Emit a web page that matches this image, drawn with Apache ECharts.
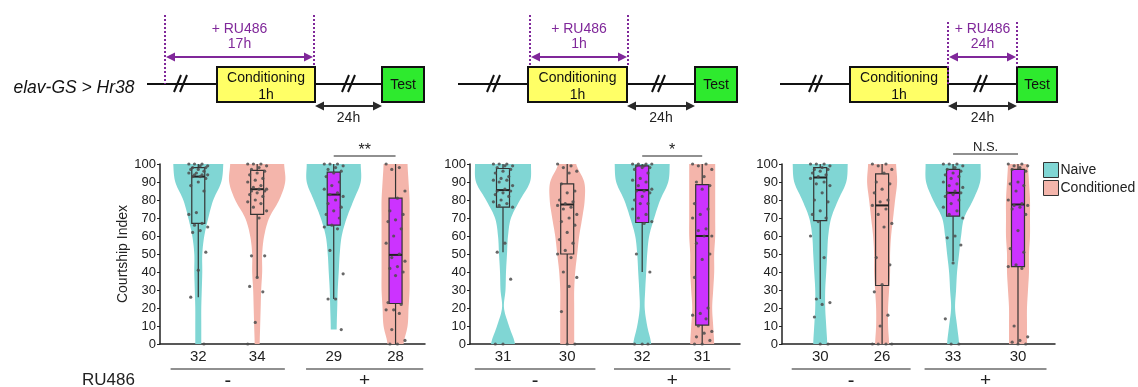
<!DOCTYPE html>
<html>
<head>
<meta charset="utf-8">
<script src="https://cdn.jsdelivr.net/npm/echarts@6/dist/echarts.min.js"></script>
<style>
  html, body { margin: 0; background: #fff; }
  #main { width: 1138px; height: 387px; }
</style>
</head>
<body>
<div id="main"></div>
<script>
const FONT = '"Liberation Sans", Arial, sans-serif';

// ---- data ----
const yTicks = [0, 10, 20, 30, 40, 50, 60, 70, 80, 90, 100];
const groupNames = ['Naive', 'Conditioned', 'Naive', 'Conditioned'];
const counts = [[32, 34, 29, 28], [31, 30, 32, 31], [30, 26, 33, 30]];
const ruGroups = ['-', '+'];
const sigLabels = ['**', '*', 'N.S.'];
const rxLabels = ['17h', '1h', '24h'];

// violin half widths (density) at y = 0,10,...,100
const vio1 = [
  [3, 3, 3, 3.5, 4, 4, 6, 10, 15, 23, 25],
  [2.5, 3, 3.5, 4, 5, 5, 7, 12, 22, 28, 27],
  [3, 3, 3.5, 4, 5, 6, 8, 13, 20, 27, 27],
  [8, 12, 13, 14, 14, 14, 14, 14, 14, 13, 12]
];
const vio2 = [
  [12, 6, 1, 2.5, 3, 4, 5, 8, 17, 27, 28],
  [7, 7, 7, 7, 8, 10, 12, 15, 17.5, 17, 9],
  [9, 5, 2.5, 3, 4, 5, 7, 12, 18, 26, 27.5],
  [12, 11, 10, 11, 12, 12, 13, 13, 13, 13, 13]
];
const vio3 = [
  [7, 6, 5, 5, 6, 7, 8, 11, 18, 26, 27.5],
  [7, 6, 6, 7, 8, 8, 9, 11, 13, 15, 14],
  [6, 4, 2, 3, 4, 6, 8, 11, 20, 27, 27.5],
  [9, 9, 9, 10, 11, 11, 12, 12, 12, 11, 10]
];
const vioMin = [[0, 0, 8, 0], [0, 0, 0, 0], [0, 0, 0, 0]];

// box stats: [low whisker, q1, median, q3, high whisker]
const box1 = [[26, 67, 93, 98, 100], [37, 72, 86, 96.5, 100], [25, 66, 83, 95.5, 100], [0, 22.5, 49.5, 81, 100]];
const box2 = [[51, 76, 85.5, 97.5, 100], [0, 50, 77.5, 89, 100], [40, 67.5, 85.5, 99, 100], [0, 10.5, 60, 88.5, 100]];
const box3 = [[25, 68.5, 92.5, 98, 100], [0, 32.5, 77, 94.5, 100], [46, 71, 84, 97, 100], [0, 43, 77.5, 97, 100]];

// individual flies
const pts1 = [
  [100,100,100,99,99,98,98,97,97,96,95,95,94,94,94,93,93,92,90,88,85,73,72,67,66,65,63,62,51,41,26,0],
  [100,100,100,99,98,97,96,95,94,92,91,90,88,87,86,86,85,85,84,83,82,80,79,78,76,74,70,49,49,37,32,29,12,0],
  [100,100,100,99,98,97,96,95,93,90,88,86,84,83,82,80,78,76,74,72,70,66,65,64,52,39,25,25,8],
  [100,98,97,85,81,74,72,69,68,64,60,56,50,48,46,43,42,40,38,23,22,19,19,17,8,2,0,0]
];
const pts2 = [
  [100,100,100,99,99,98,97,96,95,93,92,91,91,90,88,86,85,85,84,83,82,80,79,78,77,76,56,51,36,0,0],
  [100,99,98,96,95,89,85,84,80,79,78,77,76,75,72,70,68,66,62,58,56,52,50,48,40,37,32,18,0,0],
  [100,100,100,100,99,99,98,98,97,95,92,91,90,88,86,85,85,84,82,80,78,78,75,72,70,68,67,50,40,0,0,0],
  [100,100,99,97,93,90,88,86,78,75,72,70,64,63,60,60,56,50,47,37,20,17,16,14,10,7,6,4,2,0,0]
];
const pts3 = [
  [100,100,100,99,98,97,97,96,95,94,93,92,90,89,88,84,80,79,74,72,70,68,60,48,25,23,22,15,0,0],
  [100,100,99,97,95,90,89,86,84,80,79,77,75,72,67,65,48,44,33,29,16,10,0,0,0,0],
  [100,100,100,99,98,97,96,95,94,93,92,90,89,88,87,85,84,84,83,82,80,78,76,74,72,70,60,59,55,45,14,0,0],
  [100,100,99,99,98,97,96,90,89,88,85,80,78,77,77,76,75,72,63,53,51,44,43,42,10,4,2,1,0,0]
];

// ---- layout / style ----
const TEAL = '#80d6d4';
const PINK = '#f4b5ab';
const MAGENTA = '#cc33ff';
const PURPLE = '#80289a';
const INK = '#222';

const panelData = [
  { vio: vio1, box: box1, pts: pts1 },
  { vio: vio2, box: box2, pts: pts2 },
  { vio: vio3, box: box3, pts: pts3 }
];
const layout = [
  { left: 160, width: 265, pos: [0.65, 1.65, 2.95, 4.0] },
  { left: 470, width: 270, pos: [0.55, 1.62, 2.87, 3.87] },
  { left: 782, width: 273, pos: [0.63, 1.65, 2.82, 3.89] }
];
const GRID_TOP = 164, GRID_H = 180, X_MAX = 4.5;

function profileAt(p, y) {
  const t = y / 10;
  const i = Math.min(Math.floor(t), 9);
  const f = t - i;
  const p0 = p[Math.max(i - 1, 0)], p1 = p[i], p2 = p[i + 1], p3 = p[Math.min(i + 2, 10)];
  const v = 0.5 * (2 * p1 + (-p0 + p2) * f + (2 * p0 - 5 * p1 + 4 * p2 - p3) * f * f +
    (-p0 + 3 * p1 - 3 * p2 + p3) * f * f * f);
  return Math.max(0.6, v);
}

const grids = [], xAxes = [], yAxes = [], series = [];

layout.forEach(function (L, p) {
  const D = panelData[p];
  grids.push({ left: L.left, top: GRID_TOP, width: L.width, height: GRID_H });
  xAxes.push({
    type: 'value', gridIndex: p, min: 0, max: X_MAX,
    axisLine: { show: true, lineStyle: { color: INK, width: 1.5 } },
    axisTick: { show: false }, axisLabel: { show: false }, splitLine: { show: false }
  });
  yAxes.push({
    type: 'value', gridIndex: p, min: 0, max: 100, interval: 10,
    name: p === 0 ? 'Courtship Index' : '', nameLocation: 'middle', nameGap: 29, nameRotate: 90,
    nameTextStyle: { fontSize: 14, color: INK, fontFamily: FONT },
    axisLine: { show: true, lineStyle: { color: INK, width: 1.5 } },
    axisTick: { show: true, length: 3, lineStyle: { color: INK } },
    axisLabel: { fontSize: 13, color: INK, fontFamily: FONT, margin: 4 },
    splitLine: { show: false }
  });

  // violins
  ['Naive', 'Conditioned'].forEach(function (nm, k) {
    const idx = [k, k + 2];
    series.push({
      type: 'custom', name: nm, xAxisIndex: p, yAxisIndex: p, z: 1, silent: true,
      itemStyle: { color: k === 0 ? TEAL : PINK },
      encode: { x: 0, y: 1 },
      data: idx.map(function (g) { return [L.pos[g], 100, g]; }),
      renderItem: function (params, api) {
        const g = api.value(2);
        const prof = D.vio[g];
        const y0 = vioMin[p][g];
        const right = [], left = [];
        for (let y = y0; y <= 100.001; y += 1) {
          const c = api.coord([L.pos[g], y]);
          const w = profileAt(prof, y);
          right.push([c[0] + w, c[1]]);
          left.unshift([c[0] - w, c[1]]);
        }
        return {
          type: 'polygon', shape: { points: right.concat(left) },
          style: { fill: k === 0 ? TEAL : PINK, stroke: null }
        };
      }
    });
  });

  // boxes
  series.push({
    type: 'custom', xAxisIndex: p, yAxisIndex: p, z: 2, silent: true,
    encode: { x: 0, y: [1, 2, 3, 4, 5] },
    data: D.box.map(function (b, g) { return [L.pos[g]].concat(b).concat([g]); }),
    renderItem: function (params, api) {
      const x = api.value(0), g = api.value(6);
      const cLo = api.coord([x, api.value(1)]);
      const c1 = api.coord([x, api.value(2)]);
      const cM = api.coord([x, api.value(3)]);
      const c3 = api.coord([x, api.value(4)]);
      const cHi = api.coord([x, api.value(5)]);
      const hw = 6.5;
      const ls = { stroke: '#333', lineWidth: 1.2 };
      return {
        type: 'group', children: [
          { type: 'line', shape: { x1: cLo[0], y1: cLo[1], x2: c1[0], y2: c1[1] }, style: ls },
          { type: 'line', shape: { x1: c3[0], y1: c3[1], x2: cHi[0], y2: cHi[1] }, style: ls },
          { type: 'rect', shape: { x: c3[0] - hw, y: c3[1], width: hw * 2, height: c1[1] - c3[1] },
            style: { fill: g >= 2 ? MAGENTA : 'rgba(0,0,0,0)', stroke: '#333', lineWidth: 1.2 } },
          { type: 'line', shape: { x1: cM[0] - hw, y1: cM[1], x2: cM[0] + hw, y2: cM[1] },
            style: { stroke: '#222', lineWidth: 2 } }
        ]
      };
    }
  });

  // jittered flies
  const dots = [];
  D.pts.forEach(function (arr, g) {
    arr.forEach(function (v, i) {
      const dx = 0.16 * (((i * 7) % 11) / 5 - 1);
      dots.push([L.pos[g] + dx, v]);
    });
  });
  series.push({
    type: 'scatter', xAxisIndex: p, yAxisIndex: p, z: 3, silent: true,
    symbolSize: 3.2, itemStyle: { color: '#4d4d4d', opacity: 0.85 },
    data: dots
  });

  // counts, RU486 groups, significance bar
  series.push({
    type: 'custom', xAxisIndex: p, yAxisIndex: p, z: 4, silent: true, clip: false,
    encode: { x: 0, y: 1 },
    data: [[0, 0]],
    renderItem: function (params, api) {
      const ch = [];
      const txt = function (x, y, t, size) {
        return { type: 'text', x: x, y: y,
          style: { text: t, fontSize: size, fill: INK, fontFamily: FONT, align: 'center', verticalAlign: 'middle' } };
      };
      counts[p].forEach(function (n, g) {
        const c = api.coord([L.pos[g], 0]);
        ch.push(txt(c[0], c[1] + 13, String(n), 15));
      });
      ruGroups.forEach(function (s, j) {
        const a = api.coord([L.pos[2 * j] - 0.47, 0]);
        const b = api.coord([L.pos[2 * j + 1] + 0.47, 0]);
        ch.push({ type: 'line', shape: { x1: a[0], y1: a[1] + 25, x2: b[0], y2: b[1] + 25 },
          style: { stroke: INK, lineWidth: 1.2 } });
        ch.push(txt((a[0] + b[0]) / 2, a[1] + 37, s, j === 0 ? 20 : 19));
      });
      const s0 = api.coord([L.pos[2], 100]);
      const s1 = api.coord([L.pos[3], 100]);
      const barY = s0[1] - (p === 2 ? 10 : 8);
      ch.push({ type: 'line', shape: { x1: s0[0], y1: barY, x2: s1[0], y2: barY },
        style: { stroke: INK, lineWidth: 1.2 } });
      ch.push(txt((s0[0] + s1[0]) / 2, barY - (p === 2 ? 7 : 5), sigLabels[p], p === 2 ? 13 : 16));
      return { type: 'group', children: ch };
    }
  });
});

// ---- timeline schematics ----
const LINE_Y = 84, BOX_T = 67, BOX_B = 102, ARR_Y = 57, HB_Y = 106;

function seg(x1, y1, x2, y2, color, w, dash) {
  return { type: 'line', shape: { x1: x1, y1: y1, x2: x2, y2: y2 },
    style: { stroke: color, lineWidth: w, lineDash: dash || null } };
}
function label(x, y, t, size, color, italic) {
  return { type: 'text', x: x, y: y,
    style: { text: t, fontSize: size, fill: color, fontFamily: FONT, fontStyle: italic ? 'italic' : 'normal',
      align: 'center', verticalAlign: 'middle' } };
}
function dblArrow(x1, x2, y, color) {
  return [
    seg(x1 + 4, y, x2 - 4, y, color, 2),
    { type: 'polygon', shape: { points: [[x1, y], [x1 + 9, y - 4.5], [x1 + 9, y + 4.5]] }, style: { fill: color } },
    { type: 'polygon', shape: { points: [[x2, y], [x2 - 9, y - 4.5], [x2 - 9, y + 4.5]] }, style: { fill: color } }
  ];
}
function brk(x) {
  return [seg(x - 8, LINE_Y + 8, x - 1, LINE_Y - 9, '#111', 2), seg(x - 2, LINE_Y + 8, x + 5, LINE_Y - 9, '#111', 2)];
}
function timeline(t, p) {
  let el = [
    seg(t.start, LINE_Y, t.condL, LINE_Y, '#111', 2),
    seg(t.condR, LINE_Y, t.testL, LINE_Y, '#111', 2)
  ];
  el = el.concat(brk(t.b1), brk(t.b2));
  el.push({ type: 'rect', shape: { x: t.condL, y: BOX_T, width: t.condR - t.condL, height: BOX_B - BOX_T },
    style: { fill: '#ffff66', stroke: '#111', lineWidth: 2 } });
  el.push({ type: 'rect', shape: { x: t.testL, y: BOX_T, width: t.testR - t.testL, height: BOX_B - BOX_T },
    style: { fill: '#2eea2e', stroke: '#111', lineWidth: 2 } });
  const cx = (t.condL + t.condR) / 2;
  el.push(label(cx, 78, 'Conditioning', 14, '#111'));
  el.push(label(cx, 95, '1h', 14, '#111'));
  el.push(label((t.testL + t.testR) / 2, 85, 'Test', 14, '#111'));
  el = el.concat(dblArrow(t.condR, t.testL, HB_Y, '#2a2a2a'));
  el.push(label((t.condR + t.testL) / 2, 118, '24h', 14, '#222'));
  el.push(seg(t.d1, t.dTop, t.d1, t.d1Bot, PURPLE, 2, [2, 2]));
  el.push(seg(t.d2, t.dTop, t.d2, BOX_T, PURPLE, 2, [2, 2]));
  el = el.concat(dblArrow(t.d1 + 1, t.d2 - 1, ARR_Y, PURPLE));
  const rx = (t.d1 + t.d2) / 2;
  el.push(label(rx, 29, '+ RU486', 14, PURPLE));
  el.push(label(rx, 44, rxLabels[p], 14, PURPLE));
  return el;
}

const schem = [
  { start: 147, condL: 217, condR: 315, testL: 382, testR: 424, b1: 182, b2: 350, d1: 165, d2: 314, dTop: 15, d1Bot: 84 },
  { start: 458, condL: 528, condR: 627, testL: 695, testR: 737, b1: 495, b2: 660, d1: 530, d2: 628, dTop: 15, d1Bot: 67 },
  { start: 780, condL: 850, condR: 948, testL: 1017, testR: 1057, b1: 817, b2: 982, d1: 948, d2: 1017, dTop: 22, d1Bot: 84 }
];

let graphics = [label(74, 88, 'elav-GS > Hr38', 17.5, '#111', true),
  { type: 'text', x: 82, y: 380, style: { text: 'RU486', fontSize: 17, fill: INK, fontFamily: FONT, align: 'left', verticalAlign: 'middle' } }];
schem.forEach(function (t, p) { graphics = graphics.concat(timeline(t, p)); });

const chart = echarts.init(document.getElementById('main'));
chart.setOption({
  animation: false,
  backgroundColor: '#fff',
  textStyle: { fontFamily: FONT },
  grid: grids,
  xAxis: xAxes,
  yAxis: yAxes,
  legend: {
    orient: 'vertical', left: 1038, top: 157, itemWidth: 15, itemHeight: 15, itemGap: 2,
    textStyle: { fontSize: 14, color: INK, fontFamily: FONT, padding: [0, 0, 0, -3] },
    selectedMode: false,
    data: [
      { name: 'Naive', icon: 'rect', itemStyle: { color: TEAL, borderColor: '#333', borderWidth: 1 } },
      { name: 'Conditioned', icon: 'rect', itemStyle: { color: PINK, borderColor: '#333', borderWidth: 1 } }
    ]
  },
  graphic: graphics,
  series: series
});
</script>
</body>
</html>
